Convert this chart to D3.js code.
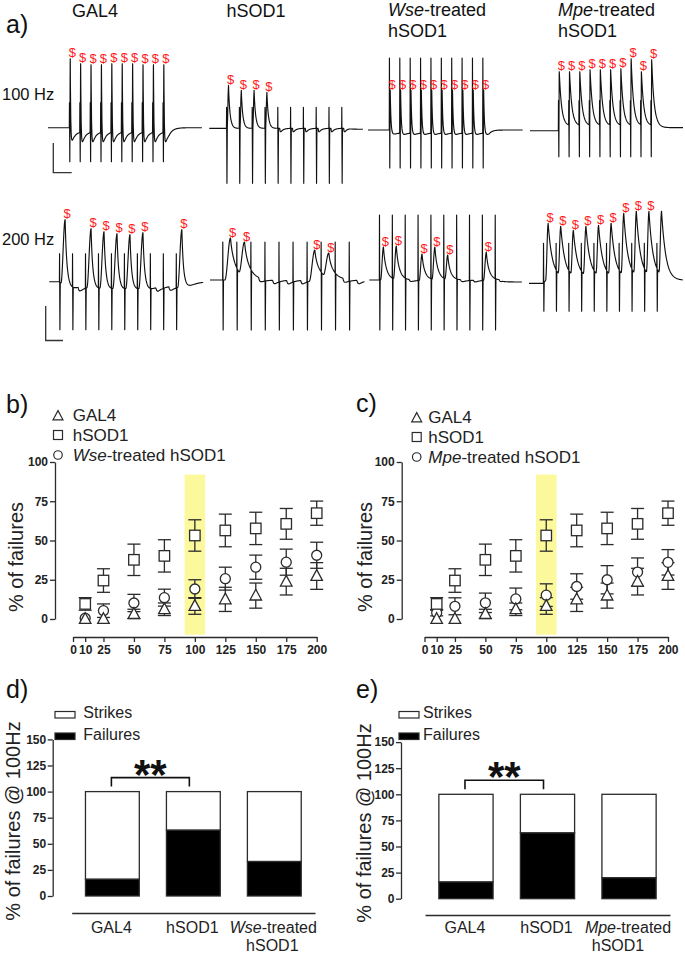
<!DOCTYPE html>
<html><head><meta charset="utf-8">
<script src="https://cdn.jsdelivr.net/npm/d3@7"></script>
<style>
body{margin:0;background:#fff;}
svg{display:block;font-family:"Liberation Sans",Arial,Helvetica,sans-serif;}
</style></head><body>
<svg id="fig" width="685" height="953"></svg>
<script>
// ================= DATA =================
// --- panel a: evoked trains ---
const traceGroups = ["GAL4", "hSOD1", "Wse-treated hSOD1", "Mpe-treated hSOD1"];
const trainRates = [100, 200];           // Hz
const stimCount = 10;
// peak of each evoked response above baseline (trace units); 0 = failure
const peaks100 = [
  [69, 64, 63, 63, 64, 64, 64, 63, 63, 63],
  [43, 38, 38, 36, 0, 0, 0, 0, 0, 0],
  [40, 40, 40, 40, 40, 40, 40, 40, 40, 40],
  [59, 59, 59, 61, 61, 61, 62, 72, 59, 71]
];
const peaks200 = [
  [62, 0, 53, 50, 48, 47, 49, 0, 0, 52],
  [42, 38, 0, 0, 0, 0, 30, 27, 0, 0],
  [33, 34, 0, 26, 33, 25, 0, 0, 28, 0],
  [60, 57, 53, 57, 58, 60, 70, 72, 72, 72]
];
// "$" marks (strikes)
const marks100 = [
  [1,1,1,1,1,1,1,1,1,1],
  [1,1,1,1,0,0,0,0,0,0],
  [1,1,1,1,1,1,1,1,1,1],
  [1,1,1,1,1,1,1,1,1,1]
];
const marks200 = [
  [1,0,1,1,1,1,1,0,0,1],
  [1,1,0,0,0,0,1,1,0,0],
  [1,1,0,1,1,1,0,0,1,0],
  [1,1,1,1,1,1,1,1,1,0]
];
const onset100 = [20.5, 13.4, 20.5, 27.6];   // ms
const dur100   = [148, 120, 149, 149];
const onset200 = [3.9, 4.5, 3.9, 5.7];
const dur200   = [59.3, 55, 59.3, 61];
const artUp100 = [25, 21, 72, 30], artDown100 = [34, 55, 38, 26];
const artUp200 = [28, 38, 65, 40], artDown200 = [48, 50, 50, 28];
// response kinetics (ms / trace units)
const kin100 = [
  {lat:.9, rise:.5, tau:.45, ahp:20, tauA:3, hFail:0, plat:-4, tauP:2, tauE:4, tail:0},
  {lat:1.6, rise:1.0, tau:1.3, ahp:3, tauA:2, hFail:6, plat:0, tauP:2, tauE:3, tail:-1},
  {lat:.9, rise:.5, tau:.8, ahp:6, tauA:3, hFail:0, plat:-3, tauP:2, tauE:3, tail:0},
  {lat:.9, rise:.5, tau:2.3, ahp:0, tauA:2, hFail:0, plat:5, tauP:3, tauE:4, tail:3}
];
const kin200 = [
  {lat:2.2, rise:1.6, tau:1.0, ahp:16, tauA:2.5, hFail:6, plat:-4, tauP:1.5, tauE:2, tail:0},
  {lat:2.8, rise:2.0, tau:2.0, ahp:5, tauA:2, hFail:6, plat:0, tauP:2, tauE:2, tail:0},
  {lat:1.6, rise:1.1, tau:1.4, ahp:5, tauA:2, hFail:3, plat:0, tauP:2, tauE:2, tail:-2},
  {lat:1.9, rise:1.0, tau:1.6, ahp:0, tauA:2, hFail:0, plat:6, tauP:1.5, tauE:2, tail:3}
];

// --- panels b, c: % of failures vs frequency ---
const freqs = [10, 25, 50, 75, 100, 125, 150, 175, 200];
const freqTicks = [0, 10, 25, 50, 75, 100, 125, 150, 175, 200];
const pctTicks = [0, 25, 50, 75, 100];
const gal4Mean = [0, 0, 3.2, 6.2, 8.3, 12.5, 14.9, 23.8, 27.4];
const gal4Err  = [0, 0, 3, 4, 5.3, 7.7, 8, 8.5, 8.5];
const hsodMean = [9.6, 24.5, 37.7, 40.2, 53.2, 56.4, 57.7, 60.6, 67.4];
const hsodErr  = [4, 7.5, 10, 10.3, 10, 10.4, 10.3, 9.8, 7.7];
const wseMean  = [0.5, 5.3, 10.2, 13.6, 19.1, 25.7, 33, 36.2, 40.6];
const wseErr   = [0.5, 4.3, 5.5, 5.4, 5.9, 7.3, 7.7, 8.3, 8.3];
const mpeMean  = [4, 8.1, 10.3, 12.8, 15.2, 20.7, 25, 29.9, 36.1];
const mpeErr   = [2, 5.4, 6.2, 6.9, 7.2, 8.1, 9, 9, 8.1];

// --- panels d, e: strikes / failures at 100 Hz ---
const barTicks = [0, 25, 50, 75, 100, 125, 150];
const barGroupsD = ["GAL4", "hSOD1", "Wse-treated hSOD1"];
const failD = [16, 63, 33];
const strikeD = [84, 37, 67];
const barGroupsE = ["GAL4", "hSOD1", "Mpe-treated hSOD1"];
const failE = [16, 63, 20];
const strikeE = [84, 37, 80];

// ================= DRAWING =================
const svg = d3.select("#fig");
svg.append("rect").attr("width", 685).attr("height", 953).attr("fill", "#fff");
const INK = "#2b2b2b";
const RED = "#ff1a1a";

function richText(sel, label) {
  const m = label.match(/^(Wse|Mpe)(.*)$/);
  if (m) {
    sel.append("tspan").attr("font-style", "italic").text(m[1]);
    sel.append("tspan").text(m[2]);
  } else sel.text(label);
}

function panelLabel(x, y, t) {
  svg.append("text").attr("x", x).attr("y", y).attr("font-size", 25).attr("fill", "#111").text(t);
}

// ---------- panel a ----------
panelLabel(6, 33, "a)");
const titleX = [95, 256, 388, 558];
traceGroups.forEach((g, i) => {
  const parts = g.split(" ");
  if (i < 2) {
    svg.append("text").attr("x", titleX[i]).attr("y", 17).attr("text-anchor", "middle")
      .attr("font-size", 18).attr("fill", "#111").text(g);
  } else {
    const t1 = svg.append("text").attr("x", titleX[i]).attr("y", 16).attr("font-size", 18).attr("fill", "#111");
    richText(t1, parts[0]);
    svg.append("text").attr("x", titleX[i]).attr("y", 37).attr("font-size", 18).attr("fill", "#111").text(parts[1]);
  }
});
svg.append("text").attr("x", 2).attr("y", 100).attr("font-size", 16.5).attr("fill", "#111").text(trainRates[0] + " Hz");
svg.append("text").attr("x", 2).attr("y", 245).attr("font-size", 16.5).attr("fill", "#111").text(trainRates[1] + " Hz");

const rowLayout = [
  {xStart: [48, 209.3, 368, 530], pxms: [1.04, 1.28, 1.038, 1.027], base: [127.7, 128.3, 130, 130.7]},
  {xStart: [49.3, 210, 369.3, 529], pxms: [2.594, 2.81, 2.572, 2.52], base: [281.7, 280, 280, 283.3]}
];
const rowData = [
  {peaks: peaks100, marks: marks100, onset: onset100, dur: dur100, up: artUp100, down: artDown100, kin: kin100},
  {peaks: peaks200, marks: marks200, onset: onset200, dur: dur200, up: artUp200, down: artDown200, kin: kin200}
];

function drawTrace(rate, d, k, L) {
  const interval = 1000 / rate;
  const stims = d3.range(stimCount).map(i => d.onset + i * interval);
  const end = stims[stimCount - 1] + interval * 0.6;
  const xs = d3.scaleLinear().domain([0, d.dur]).range([L.x0, L.x0 + d.dur * L.pxms]);
  const ys = d3.scaleLinear().domain([0, 100]).range([L.base, L.base - 100]);
  const level = t => {
    let p = 0;
    if (t >= d.onset && t < end) p = k.plat * (1 - Math.exp(-(t - d.onset) / k.tauP));
    else if (t >= end) {
      const pe = k.plat * (1 - Math.exp(-(end - d.onset) / k.tauP));
      p = k.tail + (pe - k.tail) * Math.exp(-(t - end) / k.tauE);
    }
    stims.forEach((s, i) => {
      const u = t - s - k.lat;
      if (u > 0) {
        const h = d.peaks[i] > 0 ? k.ahp : k.hFail;
        p -= h * (1 - Math.exp(-u / 0.4)) * Math.exp(-u / k.tauA);
      }
    });
    return p;
  };
  const phi = u => u < -k.rise ? 0 : (u < 0 ? Math.pow(Math.sin(Math.PI / 2 * (u + k.rise) / k.rise), 2) : Math.exp(-u / k.tau));
  const amps = [];
  stims.forEach((s, i) => {
    if (d.peaks[i] <= 0) { amps.push(0); return; }
    const tp = s + k.lat;
    let v = level(tp);
    for (let j = 0; j < i; j++) v += amps[j] * phi(tp - stims[j] - k.lat);
    amps.push(d.peaks[i] - v);
  });
  const volt = t => {
    let v = level(t);
    stims.forEach((s, i) => { if (amps[i]) v += amps[i] * phi(t - s - k.lat); });
    return v;
  };
  const e1 = 0.15 / L.pxms, e2 = 0.5 / L.pxms, e3 = 0.85 / L.pxms;
  const pts = [];
  const dt = 0.4 / L.pxms;
  d3.range(0, d.dur, dt).concat([d.dur]).forEach(t => {
    if (stims.some(s => t >= s && t <= s + e3)) return;
    pts.push({t, v: volt(t)});
  });
  stims.forEach((s, i) => {
    pts.push({t: s, v: volt(s)});
    pts.push({t: s + e1, v: d.up});
    pts.push({t: s + e2, v: -d.down});
    pts.push({t: s + e3, v: volt(s + e3)});
    if (amps[i]) pts.push({t: s + k.lat, v: volt(s + k.lat)});
  });
  pts.sort((a, b) => a.t - b.t);
  svg.append("path").attr("d", d3.line().x(p => xs(p.t)).y(p => ys(p.v))(pts))
    .attr("fill", "none").attr("stroke", "#111").attr("stroke-width", 1.15).attr("stroke-linejoin", "round");
  stims.forEach((s, i) => {
    if (!d.marks[i]) return;
    svg.append("text").attr("x", xs(s + k.lat) + 2).attr("y", ys(d.peaks[i]) - 1.5)
      .attr("text-anchor", "middle").attr("font-size", 13).attr("fill", RED).text("$");
  });
}

rowData.forEach((R, r) => {
  traceGroups.forEach((g, i) => {
    drawTrace(trainRates[r],
      {peaks: R.peaks[i], marks: R.marks[i], onset: R.onset[i], dur: R.dur[i], up: R.up[i], down: R.down[i]},
      R.kin[i],
      {x0: rowLayout[r].xStart[i], pxms: rowLayout[r].pxms[i], base: rowLayout[r].base[i]});
  });
});
// scale bars
svg.append("path").attr("d", "M53.3,143V172.7H71.7").attr("fill", "none").attr("stroke", "#333").attr("stroke-width", 1.3);
svg.append("path").attr("d", "M45.7,306V340.5H63").attr("fill", "none").attr("stroke", "#333").attr("stroke-width", 1.3);

// ---------- panels b, c ----------
function marker(g, type, x, y, s) {
  if (type === "square") g.append("rect").attr("x", x - s / 2).attr("y", y - s / 2).attr("width", s).attr("height", s);
  else if (type === "circle") g.append("circle").attr("cx", x).attr("cy", y).attr("r", s / 2);
  else g.append("path").attr("d", `M${x},${y - s * 0.6}L${x + s * 0.55},${y + s * 0.42}L${x - s * 0.55},${y + s * 0.42}Z`);
}

function lineChart(opt) {
  const x = d3.scaleLinear().domain([0, 200]).range([opt.x0, opt.x1]);
  const y = d3.scaleLinear().domain([0, 100]).range([619, 462]);
  const g = svg.append("g");
  g.append("rect").attr("x", x(100) - 10.3).attr("width", 20.6)
    .attr("y", y(92)).attr("height", y(-10) - y(92)).attr("fill", "#fbf99c");
  const ya = g.append("g").attr("transform", `translate(${opt.yAxisX},0)`)
    .call(d3.axisLeft(y).tickValues(pctTicks).tickSize(5).tickSizeOuter(0).tickPadding(2));
  const xa = g.append("g").attr("transform", `translate(0,637)`)
    .call(d3.axisBottom(x).tickValues(freqTicks).tickSize(5).tickSizeOuter(0).tickPadding(3));
  [ya, xa].forEach(a => {
    a.select(".domain").attr("stroke", INK).attr("stroke-width", 1.3);
    a.selectAll(".tick line").attr("stroke", INK).attr("stroke-width", 1.3);
    a.selectAll("text").attr("font-size", 12).attr("font-weight", "bold").attr("fill", "#222")
      .attr("font-family", "'Liberation Sans',Arial,sans-serif");
  });
  g.append("text").attr("transform", `translate(${opt.ylabX},557) rotate(-90)`).attr("text-anchor", "middle")
    .attr("font-size", 20).attr("fill", "#222").text("% of failures");
  const series = [
    {name: opt.treatName, mean: opt.treatMean, err: opt.treatErr, type: "circle"},
    {name: "GAL4", mean: gal4Mean, err: gal4Err, type: "triangle"},
    {name: "hSOD1", mean: hsodMean, err: hsodErr, type: "square"}
  ];
  series.forEach(s => {
    const eg = g.append("g").attr("stroke", INK).attr("stroke-width", 1.3).attr("fill", "none");
    freqs.forEach((f, i) => {
      if (s.err[i] < 1) return;
      const cx = x(f), t = y(s.mean[i] + s.err[i]), b = y(Math.max(s.mean[i] - s.err[i], 0));
      eg.append("line").attr("x1", cx).attr("x2", cx).attr("y1", t).attr("y2", b);
      eg.append("line").attr("x1", cx - 6.5).attr("x2", cx + 6.5).attr("y1", t).attr("y2", t);
      eg.append("line").attr("x1", cx - 6.5).attr("x2", cx + 6.5).attr("y1", b).attr("y2", b);
    });
  });
  series.forEach(s => {
    const mg = g.append("g").attr("stroke", INK).attr("stroke-width", 1.3).attr("fill", "#fff");
    freqs.forEach((f, i) => marker(mg, s.type, x(f), y(s.mean[i]), s.type === "circle" ? 10 : 10.5));
  });
  const lg = g.append("g");
  const leg = [
    {name: "GAL4", type: "triangle"},
    {name: "hSOD1", type: "square"},
    {name: opt.treatName + " hSOD1", type: "circle"}
  ];
  leg.forEach((l, i) => {
    const mg = lg.append("g").attr("stroke", INK).attr("stroke-width", 1.2).attr("fill", "#fff");
    marker(mg, l.type, opt.legSymX, opt.legSymY[i], l.type === "circle" ? 8.5 : 9);
    const t = lg.append("text").attr("x", opt.legTextX).attr("y", opt.legTextY[i]).attr("font-size", 17).attr("fill", "#222");
    richText(t, l.name);
  });
}

panelLabel(6, 413, "b)");
panelLabel(356, 412, "c)");
lineChart({x0: 73, x1: 316.7, yAxisX: 55, ylabX: 23, treatName: "Wse-treated", treatMean: wseMean, treatErr: wseErr,
  legSymX: 58, legSymY: [416, 435, 455], legTextX: 72.7, legTextY: [421, 441, 461]});
lineChart({x0: 424.5, x1: 668, yAxisX: 401.7, ylabX: 372, treatName: "Mpe-treated", treatMean: mpeMean, treatErr: mpeErr,
  legSymX: 416.7, legSymY: [418, 437, 457], legTextX: 428.3, legTextY: [423, 443, 463]});

// ---------- panels d, e ----------
function barChart(opt) {
  const y = d3.scaleLinear().domain([0, 150]).range([opt.y0, opt.y0 - 156.6]);
  const x = d3.scaleBand().domain(opt.groups).range([opt.xr0, opt.xr1]).paddingInner(0.335).paddingOuter(0.17);
  const g = svg.append("g");
  const ya = g.append("g").attr("transform", `translate(${opt.yAxisX},0)`)
    .call(d3.axisLeft(y).tickValues(barTicks).tickSize(5).tickSizeOuter(0).tickPadding(1.5));
  ya.select(".domain").attr("stroke", INK).attr("stroke-width", 1.3);
  ya.selectAll(".tick line").attr("stroke", INK).attr("stroke-width", 1.3);
  ya.selectAll("text").attr("font-size", 12).attr("font-weight", "bold").attr("fill", "#222")
    .attr("font-family", "'Liberation Sans',Arial,sans-serif");
  const xa = g.append("g").attr("transform", `translate(0,${opt.xAxisY})`)
    .call(d3.axisBottom(x).tickSize(0).tickSizeOuter(0).tickFormat(""));
  xa.select(".domain").attr("stroke", INK).attr("stroke-width", 1.3);
  opt.groups.forEach((grp, i) => {
    const bx = x(grp), bw = x.bandwidth();
    g.append("rect").attr("x", bx).attr("width", bw).attr("y", y(opt.fail[i] + opt.strike[i]))
      .attr("height", y(opt.fail[i]) - y(opt.fail[i] + opt.strike[i]))
      .attr("fill", "#fff").attr("stroke", INK).attr("stroke-width", 1.3);
    g.append("rect").attr("x", bx).attr("width", bw).attr("y", y(opt.fail[i]))
      .attr("height", y(0) - y(opt.fail[i]))
      .attr("fill", "#000").attr("stroke", INK).attr("stroke-width", 1.3);
    const cx = bx + bw / 2;
    const parts = grp.split(" ");
    if (parts.length === 1) {
      g.append("text").attr("x", cx - 1).attr("y", opt.labY).attr("text-anchor", "middle").attr("font-size", 16).attr("fill", "#222").text(grp);
    } else {
      const t = g.append("text").attr("x", cx - 1).attr("y", opt.labY).attr("text-anchor", "middle").attr("font-size", 16).attr("fill", "#222");
      richText(t, parts[0]);
      g.append("text").attr("x", cx + opt.line2dx).attr("y", opt.labY + 17.5).attr("text-anchor", "middle").attr("font-size", 16).attr("fill", "#222").text(parts[1]);
    }
  });
  const c1 = x(opt.groups[0]) + x.bandwidth() / 2 - 1, c2 = x(opt.groups[1]) + x.bandwidth() / 2 - 4;
  const top = y(100) - 14;
  g.append("path").attr("d", `M${c1},${top + 9}V${top}H${c2}V${top + 9}`).attr("fill", "none").attr("stroke", "#111").attr("stroke-width", 1.6);
  g.append("text").attr("x", (c1 + c2) / 2).attr("y", top + 11).attr("text-anchor", "middle")
    .attr("font-size", 42).attr("font-weight", "bold").attr("fill", "#111").text("**");
  g.append("text").attr("transform", `translate(${opt.ylabX},${opt.ylabY}) rotate(-90)`).attr("text-anchor", "middle")
    .attr("font-size", 20).attr("fill", "#222").text("% of failures @ 100Hz");
  const lx = opt.legX;
  g.append("rect").attr("x", lx).attr("y", 711.5).attr("width", 20).attr("height", 6.5).attr("fill", "#fff").attr("stroke", INK).attr("stroke-width", 1.2);
  g.append("text").attr("x", lx + opt.legDx).attr("y", 718).attr("font-size", 16).attr("fill", "#222").text("Strikes");
  g.append("rect").attr("x", lx).attr("y", 733).attr("width", 20).attr("height", 6.5).attr("fill", "#000").attr("stroke", INK).attr("stroke-width", 1.2);
  g.append("text").attr("x", lx + opt.legDx).attr("y", 739.5).attr("font-size", 16).attr("fill", "#222").text("Failures");
}

panelLabel(6, 698, "d)");
panelLabel(356, 698, "e)");
barChart({groups: barGroupsD, fail: failD, strike: strikeD, y0: 896, yAxisX: 52.7, xr0: 71.7, xr1: 315, xAxisY: 913,
  labY: 933, line2dx: -2, ylabX: 19.5, ylabY: 821, legX: 55, legDx: 28.3});
barChart({groups: barGroupsE, fail: failE, strike: strikeE, y0: 898.7, yAxisX: 401, xr0: 425, xr1: 670, xAxisY: 915,
  labY: 933, line2dx: -11, ylabX: 371, ylabY: 823, legX: 399, legDx: 24});
</script>
</body></html>
